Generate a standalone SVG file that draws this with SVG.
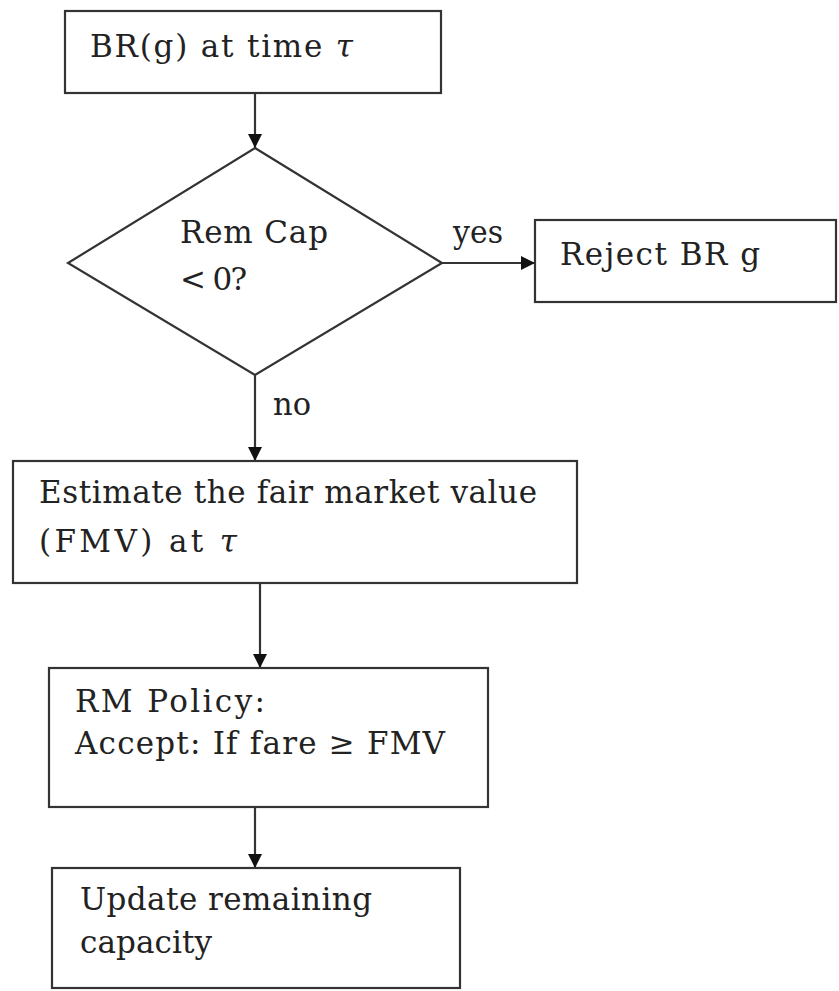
<svg xmlns="http://www.w3.org/2000/svg" width="839" height="991" viewBox="0 0 839 991">
<style>
.box{fill:#fff;stroke:#333;stroke-width:2.2}
.t{font-family:"DejaVu Serif","Liberation Serif",serif;font-size:31px;fill:#222}
.c{stroke:#333;stroke-width:2.2;fill:none}
.tau{font-style:italic}
</style>
<defs>
<marker id="ah" markerUnits="userSpaceOnUse" markerWidth="14" markerHeight="14" viewBox="0 0 14 14" refX="14" refY="7" orient="auto">
<path d="M0,0 L14,7 L0,14 Z" fill="#111"/>
</marker>
</defs>
<rect width="839" height="991" fill="#fff"/>
<g id="connectors">
<line class="c" x1="255" y1="93" x2="255" y2="148" marker-end="url(#ah)"/>
<line class="c" x1="442" y1="263" x2="535" y2="263" marker-end="url(#ah)"/>
<line class="c" x1="255" y1="375" x2="255" y2="461" marker-end="url(#ah)"/>
<line class="c" x1="260" y1="583" x2="260" y2="668" marker-end="url(#ah)"/>
<line class="c" x1="255" y1="807" x2="255" y2="868" marker-end="url(#ah)"/>
<text class="t" x="453" y="243" textLength="50" lengthAdjust="spacingAndGlyphs">yes</text>
<text class="t" x="273" y="415" textLength="38" lengthAdjust="spacingAndGlyphs">no</text>
</g>
<g id="start">
<rect class="box" x="65" y="11" width="376" height="82"/>
<text class="t" x="90" y="57" textLength="263" lengthAdjust="spacing">BR(g) at time <tspan class="tau">τ</tspan></text>
</g>
<g id="decision">
<polygon class="box" points="255,148 442,263 255,375 68,263"/>
<text class="t" x="180" y="243" textLength="148" lengthAdjust="spacing">Rem Cap</text>
<text class="t" x="180" y="290" textLength="67" lengthAdjust="spacing">&lt; 0?</text>
</g>
<g id="reject">
<rect class="box" x="535" y="220" width="301" height="82"/>
<text class="t" x="560" y="265" textLength="200" lengthAdjust="spacing">Reject BR g</text>
</g>
<g id="estimate">
<rect class="box" x="13" y="461" width="564" height="122"/>
<text class="t" x="39" y="503" textLength="498" lengthAdjust="spacing">Estimate the fair market value</text>
<text class="t" x="39" y="552" textLength="198" lengthAdjust="spacing">(FMV)  at <tspan class="tau">τ</tspan></text>
</g>
<g id="policy">
<rect class="box" x="49" y="668" width="439" height="139"/>
<text class="t" x="75" y="712" textLength="190" lengthAdjust="spacing">RM Policy:</text>
<text class="t" x="75" y="754" textLength="370" lengthAdjust="spacing">Accept: If fare ≥ FMV</text>
</g>
<g id="update">
<rect class="box" x="52" y="868" width="408" height="120"/>
<text class="t" x="80" y="910" textLength="292" lengthAdjust="spacing">Update remaining</text>
<text class="t" x="80" y="953" textLength="132" lengthAdjust="spacing">capacity</text>
</g>
</svg>
